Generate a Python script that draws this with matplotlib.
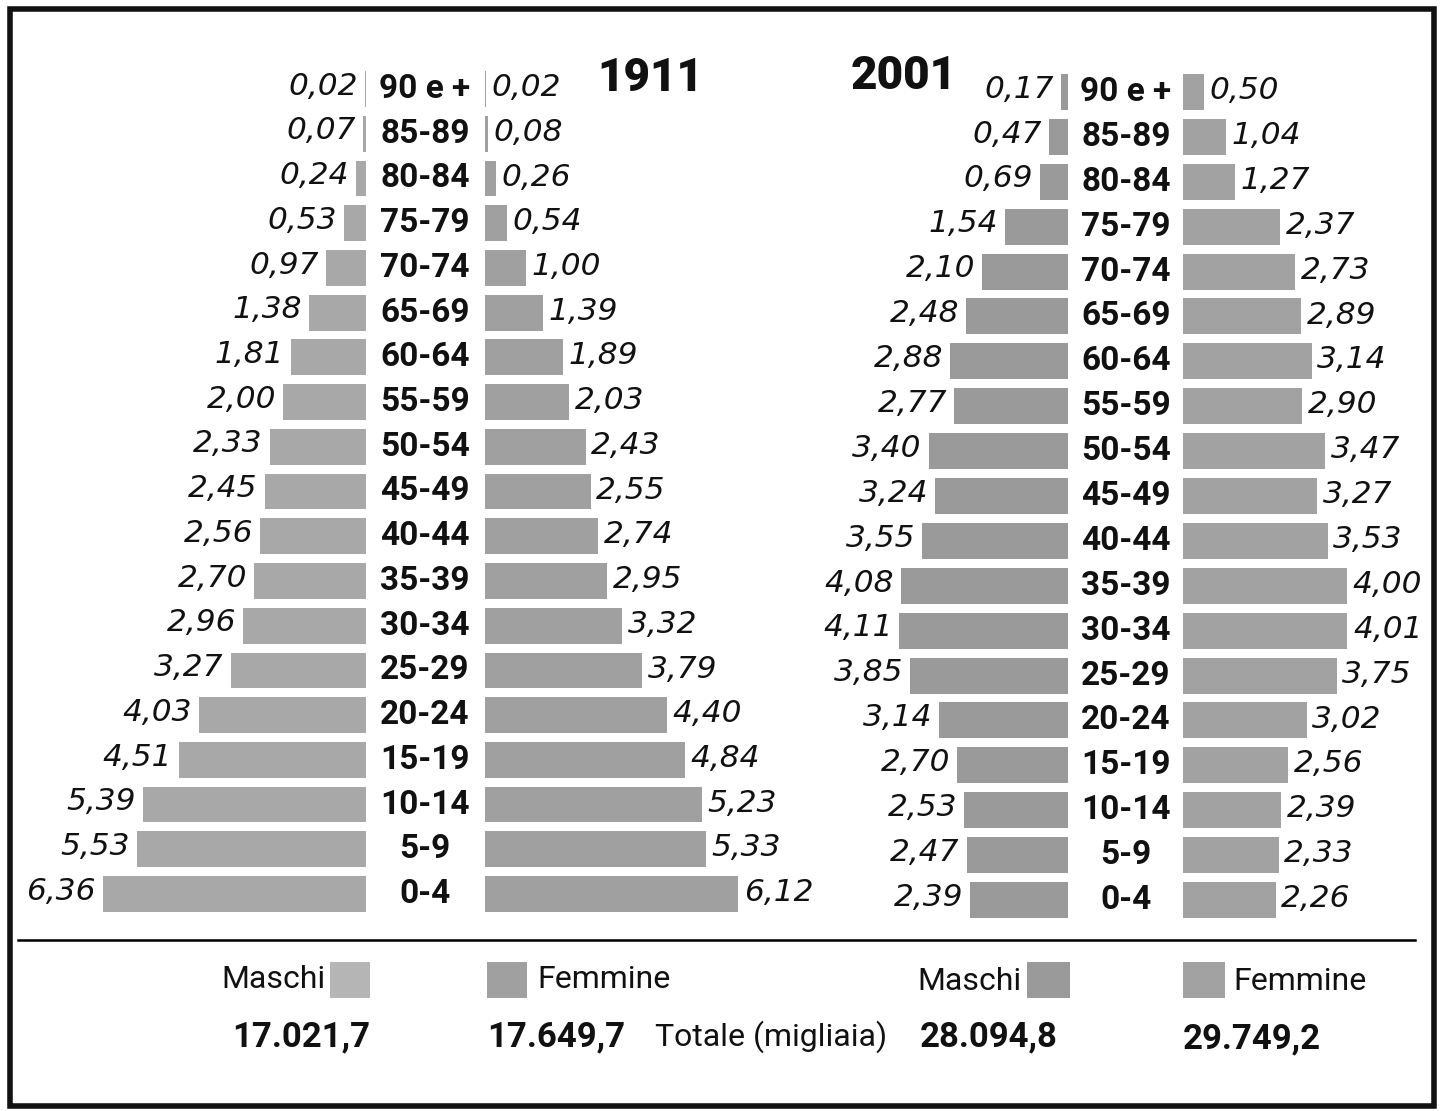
import matplotlib
matplotlib.use("Agg")
import matplotlib.pyplot as plt
from matplotlib.patches import Rectangle
from matplotlib.lines import Line2D
from matplotlib.transforms import blended_transform_factory

# ---- data ----
ages = ["0-4", "5-9", "10-14", "15-19", "20-24", "25-29", "30-34", "35-39",
        "40-44", "45-49", "50-54", "55-59", "60-64", "65-69", "70-74",
        "75-79", "80-84", "85-89", "90 e +"]
m1911 = [6.36, 5.53, 5.39, 4.51, 4.03, 3.27, 2.96, 2.70, 2.56, 2.45, 2.33,
         2.00, 1.81, 1.38, 0.97, 0.53, 0.24, 0.07, 0.02]
f1911 = [6.12, 5.33, 5.23, 4.84, 4.40, 3.79, 3.32, 2.95, 2.74, 2.55, 2.43,
         2.03, 1.89, 1.39, 1.00, 0.54, 0.26, 0.08, 0.02]
m2001 = [2.39, 2.47, 2.53, 2.70, 3.14, 3.85, 4.11, 4.08, 3.55, 3.24, 3.40,
         2.77, 2.88, 2.48, 2.10, 1.54, 0.69, 0.47, 0.17]
f2001 = [2.26, 2.33, 2.39, 2.56, 3.02, 3.75, 4.01, 4.00, 3.53, 3.27, 3.47,
         2.90, 3.14, 2.89, 2.73, 2.37, 1.27, 1.04, 0.50]
years = ["1911", "2001"]
tot_m = ["17.021,7", "28.094,8"]
tot_f = ["17.649,7", "29.749,2"]
legend_m = "Maschi"
legend_f = "Femmine"
tot_label = "Totale (migliaia)"

W, H = 1441, 1111
fig = plt.figure(figsize=(W / 100, H / 100), dpi=100)
fig.patch.set_facecolor("white")


def fx(x):
    return x / W


def fy(y):
    return 1 - y / H


def add_ax(left, right, top, bottom):
    ax = fig.add_axes([fx(left), fy(bottom), (right - left) / W, (bottom - top) / H])
    ax.set_axis_off()
    return ax


def fmt(v):
    return f"{v:.2f}".replace(".", ",")


VAL_FONT = dict(family="DejaVu Sans", style="italic", fontsize=22.5, color="#111111")
AGE_FONT = dict(family="Roboto", fontweight="bold", fontsize=24, color="#111111")
n = len(ages)
idx = list(range(n))


def pyramid(mvals, fvals, m_right, f_left, scale, xmax, ytop, ybot, age_x,
            mcol, fcol):
    s = (ybot - ytop) / (n - 1)
    top, bot = ytop - s / 2, ybot + s / 2
    axm = add_ax(m_right - xmax * scale, m_right, top, bot)
    axf = add_ax(f_left, f_left + xmax * scale, top, bot)
    for ax in (axm, axf):
        ax.set_ylim(-0.5, n - 0.5)
    axm.set_xlim(xmax, 0)
    axf.set_xlim(0, xmax)
    axm.barh(idx, mvals, height=0.8, color=mcol, edgecolor="none")
    axf.barh(idx, fvals, height=0.8, color=fcol, edgecolor="none")
    for i, v in enumerate(mvals):
        axm.annotate(fmt(v), (v, i), xytext=(-5, 2), textcoords="offset points",
                     ha="right", va="center", **VAL_FONT)
    for i, v in enumerate(fvals):
        axf.annotate(fmt(v), (v, i), xytext=(4, 1), textcoords="offset points",
                     ha="left", va="center", **VAL_FONT)
    tr = blended_transform_factory(fig.transFigure, axm.transData)
    for i, a in enumerate(ages):
        fig.text(fx(age_x), i, a, transform=tr, ha="center", va="center", **AGE_FONT)


pyramid(m1911, f1911, 366, 485, 41.4, 7.0, 89, 894, 425, "#a8a8a8", "#a0a0a0")
pyramid(m2001, f2001, 1068, 1183, 41.0, 5.0, 92, 900, 1126, "#9a9a9a", "#a2a2a2")

# titles
TITLE_FONT = dict(family="Roboto", fontweight="heavy", fontsize=33, color="#111111")
fig.text(fx(650), fy(78), years[0], ha="center", va="center", **TITLE_FONT)
fig.text(fx(904), fy(76), years[1], ha="center", va="center", **TITLE_FONT)

# separator line
fig.add_artist(Line2D([fx(18), fx(1415)], [fy(940), fy(940)], color="black", lw=1.8))

# legend
LEG_FONT = dict(family="Roboto", fontsize=23, color="#111111")
NUM_FONT = dict(family="Roboto", fontweight="bold", fontsize=25, color="#111111")


def swatch(x0, x1, col):
    fig.add_artist(Rectangle((fx(x0), fy(998)), (x1 - x0) / W, 36 / H,
                             transform=fig.transFigure, facecolor=col, edgecolor="none"))


fig.text(fx(325), fy(980), legend_m, ha="right", va="center", **LEG_FONT)
swatch(330, 370, "#b5b5b5")
swatch(487, 527, "#a0a0a0")
fig.text(fx(537), fy(980), legend_f, ha="left", va="center", **LEG_FONT)
fig.text(fx(1022), fy(981), legend_m, ha="right", va="center", **LEG_FONT)
swatch(1027, 1070, "#9a9a9a")
swatch(1183, 1225, "#a2a2a2")
fig.text(fx(1233), fy(981), legend_f, ha="left", va="center", **LEG_FONT)

fig.text(fx(232), fy(1037), tot_m[0], ha="left", va="center", **NUM_FONT)
fig.text(fx(487), fy(1037), tot_f[0], ha="left", va="center", **NUM_FONT)
fig.text(fx(655), fy(1037), tot_label, ha="left", va="center", **LEG_FONT)
fig.text(fx(920), fy(1037), tot_m[1], ha="left", va="center", **NUM_FONT)
fig.text(fx(1183), fy(1039), tot_f[1], ha="left", va="center", **NUM_FONT)

# frame
fig.add_artist(Rectangle((fx(10), fy(1106)), (1434 - 10) / W, (1106 - 9) / H,
                         transform=fig.transFigure, facecolor="none",
                         edgecolor="#111111", lw=4))

fig.savefig("out.png", dpi=100, facecolor="white")
